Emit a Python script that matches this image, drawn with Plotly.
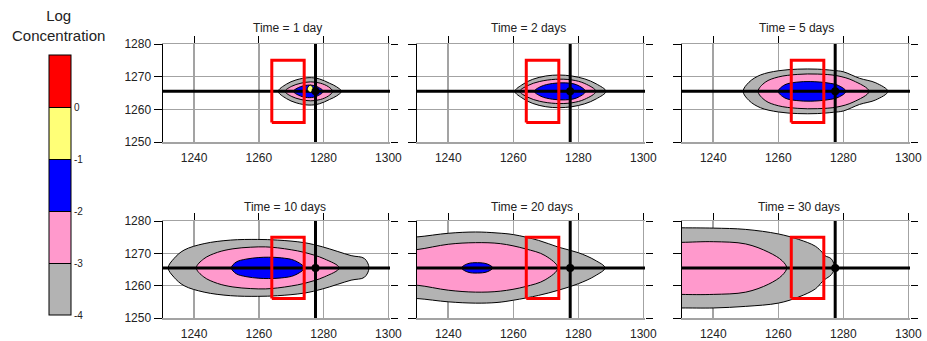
import plotly.graph_objects as go

# ---------------- data ----------------
TITLES = ["Time = 1 day", "Time = 2 days", "Time = 5 days",
          "Time = 10 days", "Time = 20 days", "Time = 30 days"]
X_TICKS = [1240, 1260, 1280, 1300]
Y_TICKS = [1250, 1260, 1270, 1280]
X_RANGE = [1230.4, 1300.5]
Y_RANGE = [1250, 1280]

CENTER_Y = 1265.5          # transect line (y)
WELL_X = 1277.5            # well location
WELL_Y = 1265.5
TRANSECT_X = [1230.0, 1301.0]
WELL_LINE_Y = [1250.0, 1280.0]
RECT_X = [1264, 1274, 1274, 1264, 1264]
RECT_Y = [1256, 1256, 1275, 1275, 1256]

# legend (log concentration classes)
LEVEL_TICKS = [-4, -3, -2, -1, 0]
LEVEL_TEXT = ["-4", "-3", "-2", "-1", "0"]
CLASS_COLORS = ["#b3b3b3", "#ff99cc", "#0000ff", "#ffff77", "#ff0000"]

# contour outlines: x positions and half widths about CENTER_Y
D1_GRAY_X = [1266.0, 1268.5, 1271.5, 1275.5, 1278.7, 1281.8, 1284.0, 1285.5]
D1_GRAY_H = [0, 2.2, 3.5, 4.2, 3.8, 2.5, 1.4, 0]
D1_PINK_X = [1268.1, 1270.0, 1273.0, 1276.0, 1279.0, 1281.5, 1282.8]
D1_PINK_H = [0, 1.5, 2.5, 2.9, 2.5, 1.4, 0]
D1_BLUE_X = [1270.7, 1272.3, 1275.0, 1277.6, 1279.9]
D1_BLUE_H = [0, 1.2, 1.9, 1.6, 0]
D1_YELL_X = [1274.9, 1275.9, 1276.9]
D1_YELL_TOP = [1266.2, 1267.4, 1266.2]
D1_YELL_BOT = [1266.2, 1265.2, 1266.2]

D2_GRAY_X = [1260.5, 1263.0, 1266.0, 1270.0, 1274.0, 1278.0, 1282.0, 1285.5, 1288.5]
D2_GRAY_H = [0, 2.2, 3.7, 4.7, 5.0, 4.7, 3.8, 2.3, 0]
D2_PINK_X = [1262.0, 1264.5, 1268.0, 1273.0, 1278.0, 1282.0, 1285.4]
D2_PINK_H = [0, 1.8, 3.0, 3.7, 3.5, 2.4, 0]
D2_BLUE_X = [1266.5, 1268.5, 1272.0, 1276.0, 1279.5, 1282.2]
D2_BLUE_H = [0, 1.5, 2.4, 2.6, 2.0, 0]

D5_GRAY_X = [1249.2, 1251.0, 1254.5, 1260.0, 1266.0, 1272.0, 1277.0, 1280.0, 1285.0, 1290.0, 1293.7]
D5_GRAY_H = [0, 2.8, 5.0, 6.3, 6.8, 6.8, 6.4, 6.0, 4.0, 2.6, 0]
D5_PINK_X = [1253.8, 1256.0, 1260.0, 1266.0, 1272.0, 1278.0, 1283.0, 1287.9]
D5_PINK_H = [0, 2.8, 4.4, 5.2, 5.3, 4.8, 3.3, 0]
D5_BLUE_X = [1260.0, 1262.0, 1265.5, 1270.0, 1275.0, 1278.5, 1280.8]
D5_BLUE_H = [0, 2.0, 2.8, 3.0, 2.6, 1.8, 0]

D10_GRAY_X = [1232.0, 1233.8, 1236.9, 1243.1, 1251.3, 1259.6, 1265.8, 1274.0, 1279.7, 1288.5, 1292.6, 1294.0]
D10_GRAY_H = [0, 2.9, 5.5, 7.5, 8.6, 8.8, 8.6, 7.8, 6.5, 3.8, 2.9, 0]
D10_PINK_X = [1240.7, 1243.0, 1247.2, 1252.0, 1257.5, 1262.0, 1265.8, 1270.0, 1274.0, 1280.2, 1284.8]
D10_PINK_H = [0, 2.8, 4.8, 5.9, 6.4, 6.5, 6.2, 5.6, 4.8, 2.8, 0]
D10_BLUE_X = [1251.5, 1253.0, 1256.0, 1260.0, 1263.0, 1267.0, 1271.0, 1274.0]
D10_BLUE_H = [0, 1.8, 2.7, 3.2, 3.3, 3.1, 2.3, 0]

D20_GRAY_X = [1226.0, 1230.7, 1240.0, 1248.4, 1255.0, 1260.0, 1267.8, 1273.9, 1280.0, 1285.1, 1288.2]
D20_GRAY_TOP = [1274.9, 1275.1, 1276.2, 1276.6, 1276.3, 1275.8, 1274.0, 1271.9, 1270.2, 1267.9, 1265.5]
D20_GRAY_BOT = [1256.1, 1256.0, 1255.0, 1254.6, 1254.8, 1255.5, 1257.0, 1258.6, 1260.6, 1263.0, 1265.5]
D20_PINK_X = [1226.0, 1230.7, 1240.0, 1248.4, 1256.0, 1263.7, 1269.8, 1273.7]
D20_PINK_TOP = [1270.9, 1271.2, 1272.8, 1273.3, 1273.0, 1271.4, 1269.3, 1265.5]
D20_PINK_BOT = [1260.2, 1260.1, 1258.6, 1258.0, 1258.3, 1259.7, 1261.8, 1265.5]
D20_BLUE_X = [1244.1, 1246.0, 1249.0, 1252.0, 1253.7]
D20_BLUE_H = [0, 1.3, 1.6, 1.2, 0]

D30_GRAY_X = [1226.0, 1230.4, 1240.0, 1250.0, 1260.0, 1266.3, 1271.4, 1273.5, 1274.3, 1276.3, 1277.3]
D30_GRAY_TOP = [1278.0, 1277.9, 1277.8, 1277.4, 1276.0, 1274.3, 1272.2, 1270.3, 1269.3, 1268.3, 1265.5]
D30_GRAY_BOT = [1253.0, 1253.1, 1253.1, 1253.6, 1254.6, 1256.5, 1259.0, 1261.2, 1261.9, 1263.4, 1265.5]
D30_PINK_X = [1226.0, 1230.4, 1240.0, 1250.0, 1257.1, 1261.2, 1262.6]
D30_PINK_TOP = [1273.4, 1273.4, 1273.6, 1272.9, 1270.3, 1267.7, 1265.5]
D30_PINK_BOT = [1257.5, 1257.3, 1257.3, 1258.0, 1260.5, 1263.2, 1265.5]

GRAY, PINK, BLUE, YELL = CLASS_COLORS[0], CLASS_COLORS[1], CLASS_COLORS[2], CLASS_COLORS[3]


def sym(x, h):
    return x, [CENTER_Y + v for v in h], [CENTER_Y - v for v in h]


PANELS = [
    [(sym(D1_GRAY_X, D1_GRAY_H), GRAY), (sym(D1_PINK_X, D1_PINK_H), PINK),
     (sym(D1_BLUE_X, D1_BLUE_H), BLUE)],
    [(sym(D2_GRAY_X, D2_GRAY_H), GRAY), (sym(D2_PINK_X, D2_PINK_H), PINK),
     (sym(D2_BLUE_X, D2_BLUE_H), BLUE)],
    [(sym(D5_GRAY_X, D5_GRAY_H), GRAY), (sym(D5_PINK_X, D5_PINK_H), PINK),
     (sym(D5_BLUE_X, D5_BLUE_H), BLUE)],
    [(sym(D10_GRAY_X, D10_GRAY_H), GRAY), (sym(D10_PINK_X, D10_PINK_H), PINK),
     (sym(D10_BLUE_X, D10_BLUE_H), BLUE)],
    [((D20_GRAY_X, D20_GRAY_TOP, D20_GRAY_BOT), GRAY),
     ((D20_PINK_X, D20_PINK_TOP, D20_PINK_BOT), PINK),
     (sym(D20_BLUE_X, D20_BLUE_H), BLUE)],
    [((D30_GRAY_X, D30_GRAY_TOP, D30_GRAY_BOT), GRAY),
     ((D30_PINK_X, D30_PINK_TOP, D30_PINK_BOT), PINK)],
]
# yellow core (1 day) is drawn above the transect line
TOP_LAYER = {0: [((D1_YELL_X, D1_YELL_TOP, D1_YELL_BOT), YELL)]}


def outline(x, top, bot):
    xs = list(x)
    ys = list(top)
    rx = list(x[::-1])
    rb = list(bot[::-1])
    if top[-1] == bot[-1]:
        rx, rb = rx[1:], rb[1:]
    xs += rx
    ys += rb
    if top[0] == bot[0]:
        xs, ys = xs[:-1], ys[:-1]
    xs.append(xs[0])
    ys.append(ys[0])
    return xs, ys


# ---------------- layout geometry ----------------
W, H = 927, 341
XDOM = [(163, 390), (417, 645), (682, 910)]
YDOM = [(44, 142), (221, 318)]
TITLE_POS = [(287, 28), (528, 28), (796, 28), (285, 207), (532, 207), (799, 207)]

FONT = "Liberation Sans, Arial, sans-serif"
GRID = "#a3a3a3"

fig = go.Figure()
layout = dict(width=W, height=H, margin=dict(l=0, r=0, t=0, b=0, autoexpand=False),
              paper_bgcolor="white", plot_bgcolor="white", showlegend=False,
              font=dict(family=FONT, size=12, color="#222222"))
annotations = []


def add_fill(xa, ya, shape, col):
    (x, top, bot) = shape
    px, py = outline(x, top, bot)
    fig.add_trace(go.Scatter(x=px, y=py, xaxis=xa, yaxis=ya, mode="lines",
                             fill="toself", fillcolor=col,
                             line=dict(color="black", width=1, shape="spline", smoothing=1),
                             hoverinfo="skip"))


for i in range(6):
    n = i + 1
    r, c = divmod(i, 3)
    xd = [XDOM[c][0] / W, XDOM[c][1] / W]
    yd = [1 - YDOM[r][1] / H, 1 - YDOM[r][0] / H]
    xa, ya = ("x" if n == 1 else f"x{n}"), ("y" if n == 1 else f"y{n}")
    xo, yo = f"x{n + 6}", f"y{n + 6}"
    layout[f"xaxis{n}"] = dict(domain=xd, range=X_RANGE, anchor=ya, side="top",
                               tickvals=X_TICKS, ticks="outside", ticklen=7,
                               tickcolor="black", showticklabels=False,
                               showgrid=True, gridcolor=GRID, gridwidth=1.5,
                               showline=True, mirror=True, linecolor=GRID, linewidth=1.5,
                               zeroline=False, fixedrange=True)
    layout[f"yaxis{n}"] = dict(domain=yd, range=Y_RANGE, anchor=xa,
                               tickvals=Y_TICKS, ticks="outside", ticklen=8,
                               tickcolor="black", showticklabels=(c == 0),
                               showgrid=True, gridcolor=GRID, gridwidth=1.5,
                               showline=True, linecolor="black", linewidth=1.5,
                               zeroline=False, tickfont=dict(size=12), fixedrange=True)
    layout[f"xaxis{n + 6}"] = dict(overlaying=xa, anchor=ya, side="bottom", range=X_RANGE,
                                   tickvals=X_TICKS, ticks="outside", ticklen=5,
                                   tickcolor="rgba(0,0,0,0)", showgrid=False,
                                   showline=False, zeroline=False, tickfont=dict(size=12),
                                   fixedrange=True)
    layout[f"yaxis{n + 6}"] = dict(overlaying=ya, anchor=xa, side="right", range=Y_RANGE,
                                   tickvals=Y_TICKS, ticks="outside", ticklen=7,
                                   tickcolor="black", showticklabels=False,
                                   showgrid=False, showline=False, zeroline=False,
                                   fixedrange=True)

    for shape, col in PANELS[i]:
        add_fill(xa, ya, shape, col)
    fig.add_trace(go.Scatter(x=TRANSECT_X, y=[CENTER_Y, CENTER_Y], xaxis=xa, yaxis=ya,
                             mode="lines", line=dict(color="black", width=3), hoverinfo="skip"))
    for shape, col in TOP_LAYER.get(i, []):
        add_fill(xa, ya, shape, col)
    fig.add_trace(go.Scatter(x=[WELL_X, WELL_X], y=WELL_LINE_Y, xaxis=xa, yaxis=ya,
                             mode="lines", line=dict(color="black", width=3), hoverinfo="skip"))
    fig.add_trace(go.Scatter(x=RECT_X, y=RECT_Y, xaxis=xa, yaxis=ya, mode="lines",
                             line=dict(color="#ff0000", width=3), hoverinfo="skip"))
    fig.add_trace(go.Scatter(x=[WELL_X], y=[WELL_Y], xaxis=xa, yaxis=ya, mode="markers",
                             marker=dict(color="black", size=8), hoverinfo="skip"))
    # empty traces so that the overlay axes (bottom labels, right ticks) are drawn
    fig.add_trace(go.Scatter(x=[None], y=[None], xaxis=xo, yaxis=ya, mode="markers",
                             hoverinfo="skip"))
    fig.add_trace(go.Scatter(x=[None], y=[None], xaxis=xa, yaxis=yo, mode="markers",
                             hoverinfo="skip"))
    tx, ty = TITLE_POS[i]
    annotations.append(dict(text=TITLES[i], x=tx / W, y=1 - ty / H, xref="paper", yref="paper",
                            showarrow=False, xanchor="center", yanchor="middle",
                            font=dict(size=12, color="#222222")))

# legend colour bar (dummy contour outside the visible range)
ncls = len(CLASS_COLORS)
cscale = []
for k, col in enumerate(CLASS_COLORS):
    cscale.append([k / ncls, col])
    cscale.append([(k + 1) / ncls, col])
fig.add_trace(go.Contour(
    x=[0, 1], y=[0, 1], z=[[-4, 1], [-4, 1]], xaxis="x", yaxis="y",
    zmin=-4, zmax=1, colorscale=cscale, autocontour=False,
    contours=dict(start=-3, end=0, size=1, coloring="fill", showlines=True),
    line=dict(color="black", width=1), hoverinfo="skip",
    colorbar=dict(x=49 / W, xanchor="left", y=1 - 185 / H, yanchor="middle",
                  thickness=22, thicknessmode="pixels", len=260, lenmode="pixels",
                  xpad=0, ypad=0, outlinecolor="black", outlinewidth=1,
                  tickvals=LEVEL_TICKS, ticktext=LEVEL_TEXT, ticks="",
                  tickfont=dict(size=10, color="#222222"))))

annotations.append(dict(text="Log<br>Concentration", x=58 / W, y=1 - 25 / H,
                        xref="paper", yref="paper", showarrow=False,
                        xanchor="center", yanchor="middle",
                        font=dict(size=15, color="#222222")))
layout["annotations"] = annotations
fig.update_layout(**layout)
fig.write_html("out.html", config={"displayModeBar": False, "staticPlot": True},
               post_script="document.body.style.margin='0';document.body.style.padding='0';")
